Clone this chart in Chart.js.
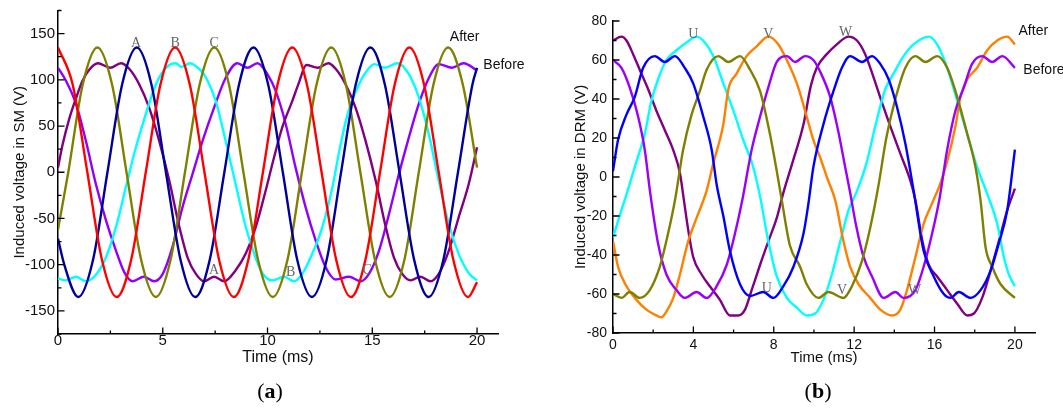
<!DOCTYPE html>
<html>
<head>
<meta charset="utf-8">
<script src="https://cdn.jsdelivr.net/npm/chart.js@4.4.0/dist/chart.umd.min.js"></script>
<style>
    body { margin: 0; background: #fff; width: 1063px; height: 408px; overflow: hidden; position: relative; }
    canvas { position: absolute; top: 0; }
    #smChart { left: 0; }
    #drmChart { left: 540px; }
    .tag { position: absolute; top: 378px; font-family: "Liberation Serif", "DejaVu Serif", serif; font-size: 22px; color: #000; transform: translateX(-50%); }
    .tag b { font-weight: bold; }
</style>
</head>
<body>
<canvas id="smChart" width="540" height="408"></canvas>
<canvas id="drmChart" width="523" height="408"></canvas>
<div class="tag" style="left:270px">(<b>a</b>)</div>
<div class="tag" style="left:818px">(<b>b</b>)</div>
<script>
// ---- (a) induced voltage in SM, [time ms, volts] ----
const smRed = [[0,135],[0.7,95],[1.4,0],[2.1,-95],[2.8,-135],[3.49,-95],[4.19,0],[4.89,95],[5.59,135],[6.29,95],[6.99,0],[7.69,-95],[8.39,-135],[9.08,-95],[9.78,0],[10.48,95],[11.18,135],[11.88,95],[12.58,0],[13.28,-95],[13.98,-135],[14.67,-95],[15.37,0],[16.07,95],[16.77,135],[17.47,95],[18.17,0],[18.87,-95],[19.57,-135],[20,-119]];
const smBlue = [[0,-72],[0.3,-100],[0.97,-135],[1.67,-95],[2.36,0],[3.06,95],[3.76,135],[4.46,95],[5.15,0],[5.85,-95],[6.55,-135],[7.24,-95],[7.94,0],[8.64,95],[9.33,135],[10.03,95],[10.73,0],[11.42,-95],[12.12,-135],[12.82,-95],[13.51,0],[14.21,95],[14.91,135],[15.6,95],[16.3,0],[17.0,-95],[17.69,-135],[18.39,-95],[19.09,0],[19.78,95],[20,113]];
const smOlive = [[0,-62],[0.49,0],[1.18,95],[1.88,135],[2.58,95],[3.27,0],[3.97,-95],[4.67,-135],[5.37,-95],[6.06,0],[6.76,95],[7.46,135],[8.16,95],[8.85,0],[9.55,-95],[10.25,-135],[10.95,-95],[11.64,0],[12.34,95],[13.04,135],[13.74,95],[14.43,0],[15.13,-95],[15.83,-135],[16.53,-95],[17.22,0],[17.92,95],[18.62,135],[19.32,95],[20,5]];
const smCyan = [[0,-115],[0.38,-117],[0.86,-113],[1.33,-118],[1.81,-111],[2.29,-92],[2.77,-59],[3.24,-16],[3.72,27],[4.19,63],[4.67,95],[5.15,113],[5.62,118],[5.9,114],[6.3,118],[6.82,110],[7.05,103],[7.53,77],[8.0,34],[8.48,-13],[8.96,-59],[9.36,-88],[9.75,-109],[10.23,-117],[10.79,-113],[11.26,-118],[11.66,-110],[12.14,-88],[12.62,-59],[13.1,-16],[13.4,20],[13.6,42],[13.89,68],[14.36,95],[14.75,110],[15.1,117],[15.6,113],[16.2,118],[16.75,106],[17.22,81],[17.7,41],[18.17,-9],[18.65,-56],[19.12,-88],[19.6,-109],[20,-117]];
const smPurple = [[0,5],[0.22,30],[0.54,58],[0.86,80],[1.17,99],[1.49,111],[1.9,118],[2.5,113],[3.0,118],[3.4,112],[3.88,95],[4.35,70],[4.83,34],[5.31,-9],[5.79,-59],[6.18,-92],[6.58,-110],[6.97,-118],[7.45,-113],[7.93,-118],[8.48,-106],[8.96,-88],[9.44,-59],[9.91,-20],[10.31,16],[10.71,49],[11.18,77],[11.5,97],[11.85,116],[12.4,113],[12.9,118],[13.25,112],[13.73,95],[14.2,70],[14.68,34],[15.16,-9],[15.64,-59],[16.03,-92],[16.43,-110],[16.82,-117],[17.3,-113],[17.78,-118],[18.17,-110],[18.65,-85],[19.12,-49],[19.6,-13],[20,27]];
const smViolet = [[0,113],[0.38,99],[0.86,74],[1.33,34],[1.81,-13],[2.29,-52],[2.77,-85],[3.16,-108],[3.56,-118],[4.1,-113],[4.59,-118],[5.0,-110],[5.46,-81],[5.94,-38],[6.42,-2],[6.9,34],[7.45,70],[8.0,102],[8.56,118],[9.04,113],[9.52,118],[10.0,106],[10.39,88],[10.87,52],[11.34,5],[11.82,-38],[12.3,-74],[12.78,-103],[13.25,-116],[13.89,-113],[14.44,-118],[14.84,-110],[15.32,-85],[15.8,-45],[16.27,-2],[16.75,38],[17.22,74],[17.7,102],[18.17,117],[18.8,113],[19.36,118],[20,110]];

// ---- (b) induced voltage in DRM ----
const drmBlue = [[0,3],[0.25,19],[0.67,32],[1.08,41],[1.5,56],[2.08,62],[2.58,59],[3.08,62],[3.57,56],[3.99,48],[4.49,31],[4.91,14],[5.16,-4],[5.49,-20],[5.82,-38],[6.32,-55],[6.82,-61],[7.48,-59],[7.98,-62],[8.48,-56],[8.98,-46],[9.48,-29],[9.72,-14],[9.97,5],[10.47,27],[10.97,44],[11.39,56],[11.8,62],[12.39,59],[12.89,62],[13.3,58],[13.72,50],[14.13,36],[14.55,17],[14.96,-7],[15.46,-38],[15.96,-51],[16.46,-60],[16.79,-62],[17.21,-59],[17.79,-62],[18.29,-58],[18.79,-48],[19.2,-34],[19.62,-17],[20,14]];
const drmOlive = [[0,-60],[0.42,-62],[0.83,-59],[1.33,-62],[1.83,-58],[2.33,-46],[2.74,-29],[3.1,-11],[3.49,14],[3.91,32],[4.32,44],[4.66,55],[5.24,62],[5.74,59],[6.32,62],[6.82,55],[7.32,44],[7.81,22],[8.15,3],[8.4,-12],[8.8,-35],[9.31,-46],[9.64,-55],[10.22,-62],[10.72,-59],[11.47,-62],[11.89,-56],[12.39,-43],[12.8,-26],[13.2,-5],[13.6,20],[14.0,38],[14.55,56],[15.05,62],[15.55,59],[16.13,62],[16.63,56],[17.13,41],[17.63,22],[18.04,5],[18.29,-12],[18.54,-36],[18.87,-46],[19.29,-55],[20,-62]];
const drmViolet = [[0,60],[0.42,56],[0.83,46],[1.25,31],[1.58,14],[1.85,-8],[2.24,-34],[2.66,-50],[3.16,-58],[3.57,-62],[4.16,-59],[4.66,-62],[5.16,-56],[5.66,-45],[6.07,-29],[6.45,-11],[6.9,14],[7.32,31],[7.73,46],[8.15,59],[8.65,62],[9.06,59],[9.56,62],[9.97,60],[10.31,54],[10.81,41],[11.2,24],[11.5,8],[11.8,-8],[12.1,-25],[12.47,-41],[12.89,-51],[13.47,-62],[14.05,-59],[14.46,-62],[15.05,-58],[15.46,-46],[15.88,-29],[16.25,-11],[16.63,14],[17.04,34],[17.46,46],[17.87,58],[18.37,62],[18.87,59],[19.37,62],[20,56]];
const drmOrange = [[0,-33],[0.25,-46],[0.67,-56],[1.17,-63],[1.66,-68],[2.16,-71],[2.41,-72],[2.66,-69],[3.0,-62],[3.33,-50],[3.74,-33],[4.16,-21],[4.66,-7],[4.99,7],[5.49,27],[5.74,45],[6.15,53],[6.65,62],[7.15,67],[7.73,72],[8.23,68],[8.65,60],[9.15,48],[9.64,31],[9.97,19],[10.31,10],[10.64,0],[11.06,-12],[11.47,-33],[11.8,-46],[12.22,-55],[12.8,-62],[13.3,-68],[13.89,-71],[14.3,-68],[14.63,-58],[15.05,-41],[15.46,-24],[15.9,-13],[16.3,-3],[16.63,8],[17.04,26],[17.29,41],[17.63,50],[18.12,56],[18.62,65],[19.12,70],[19.62,72],[20,68]];
const drmCyan = [[0,-31],[0.42,-17],[0.67,-9],[1.17,8],[1.58,22],[1.91,39],[2.24,50],[2.66,60],[3.16,65],[3.66,69],[4.16,72],[4.57,69],[4.99,62],[5.49,48],[5.99,34],[6.48,19],[6.98,5],[7.32,-10],[7.73,-33],[8.15,-51],[8.65,-62],[9.15,-67],[9.64,-71],[10.06,-70],[10.47,-63],[10.89,-50],[11.31,-33],[11.72,-17],[12.15,-7],[12.64,8],[13.05,26],[13.55,45],[13.96,53],[14.46,62],[14.96,68],[15.71,72],[16.13,68],[16.63,56],[17.13,39],[17.63,22],[18.12,5],[18.6,-8],[19.12,-24],[19.45,-41],[19.7,-50],[20,-56]];
const drmPurple = [[0,70],[0.42,72],[0.67,70],[1.0,63],[1.33,55],[1.75,45],[2.16,34],[2.58,24],[2.99,14],[3.33,2],[3.53,-12],[3.74,-27],[3.99,-41],[4.41,-50],[4.82,-56],[5.32,-63],[5.82,-71],[6.23,-71],[6.57,-68],[6.9,-58],[7.32,-45],[7.73,-33],[8.15,-21],[8.48,-8],[8.98,9],[9.48,27],[9.85,47],[10.14,56],[10.64,63],[11.14,68],[11.72,72],[12.14,70],[12.55,63],[12.97,51],[13.39,38],[13.8,26],[14.3,12],[14.8,-2],[15.05,-12],[15.38,-32],[15.71,-45],[16.13,-51],[16.63,-58],[17.13,-65],[17.63,-71],[17.96,-70],[18.37,-62],[18.79,-48],[19.2,-33],[19.62,-17],[20,-6]];

// axis ticks
const smXTicks = [0, 5, 10, 15, 20];
const smYTicks = [-150, -100, -50, 0, 50, 100, 150];
const drmXTicks = [0, 4, 8, 12, 16, 20];
const drmYTicks = [-80, -60, -40, -20, 0, 20, 40, 60, 80];

// text tags placed in data units: [text, time, volts]
const smPhaseTags = [['A',3.72,139],['B',5.59,139],['C',7.45,139],['A',7.45,-106],['B',11.1,-108],['C',14.76,-106]];
const smSideTags = [['After',18.7,146],['Before',20.3,116]];
const drmPhaseTags = [['U',4.0,73],['V',7.73,73],['W',11.57,74],['U',7.65,-57],['V',11.4,-58],['W',15.01,-58]];
const drmSideTags = [['After',20.18,75],['Before',20.42,55]];

const toPoints = pairs => pairs.map(([x, y]) => ({ x, y }));

// inward major/minor ticks + small text tags
const axisMarks = {
    id: 'axisMarks',
    afterDraw(chart, args, opts) {
        const { ctx, chartArea: a, scales: { x, y } } = chart;
        ctx.save();
        ctx.strokeStyle = '#000';
        ctx.lineWidth = 1.3;
        ctx.beginPath();
        opts.xMajor.forEach(v => { const p = x.getPixelForValue(v); ctx.moveTo(p, a.bottom); ctx.lineTo(p, a.bottom - 6.5); });
        opts.xMinor.forEach(v => { const p = x.getPixelForValue(v); ctx.moveTo(p, a.bottom); ctx.lineTo(p, a.bottom - 3.5); });
        opts.yMajor.forEach(v => { const p = y.getPixelForValue(v); ctx.moveTo(a.left, p); ctx.lineTo(a.left + 6.5, p); });
        opts.yMinor.forEach(v => { const p = y.getPixelForValue(v); ctx.moveTo(a.left, p); ctx.lineTo(a.left + 3.5, p); });
        ctx.stroke();

        ctx.textBaseline = 'middle';
        ctx.textAlign = 'center';
        ctx.fillStyle = '#666';
        ctx.font = '14px "Liberation Serif", serif';
        opts.phaseTags.forEach(([t, tx, ty]) => ctx.fillText(t, x.getPixelForValue(tx), y.getPixelForValue(ty)));

        ctx.textAlign = 'left';
        ctx.fillStyle = '#111';
        ctx.font = '14px "Liberation Sans", Arial, sans-serif';
        opts.sideTags.forEach(([t, tx, ty]) => ctx.fillText(t, x.getPixelForValue(tx), y.getPixelForValue(ty)));
        ctx.restore();
    }
};

function makeLine(pairs, color) {
    return {
        data: toPoints(pairs),
        borderColor: color,
        borderWidth: 2.4,
        pointRadius: 0,
        cubicInterpolationMode: 'monotone',
        fill: false
    };
}

function buildChart(id, cfg) {
    const ctx = document.getElementById(id).getContext('2d');
    new Chart(ctx, {
        type: 'line',
        data: { datasets: cfg.datasets },
        options: {
            responsive: false,
            animation: false,
            events: [],
            layout: { padding: cfg.padding },
            plugins: {
                legend: { display: false },
                tooltip: { enabled: false },
                axisMarks: cfg.marks
            },
            scales: {
                x: {
                    type: 'linear',
                    min: 0,
                    max: 21,
                    afterFit: s => { s.height = cfg.xHeight; },
                    afterBuildTicks: s => { s.ticks = cfg.xTicks.map(v => ({ value: v })); },
                    grid: { display: false, drawTicks: false },
                    border: { display: true, color: '#000', width: 1.5 },
                    ticks: { color: '#111', padding: cfg.xPad, maxRotation: 0, font: { family: 'Liberation Sans', size: cfg.tickSize, lineHeight: 1 } },
                    title: { display: true, text: 'Time (ms)', color: '#111', padding: { top: 0, bottom: cfg.xTitlePad }, font: { family: 'Liberation Sans', size: cfg.xTitleSize } }
                },
                y: {
                    min: cfg.yMin,
                    max: cfg.yMax,
                    afterFit: s => { s.width = cfg.yWidth; },
                    afterBuildTicks: s => { s.ticks = cfg.yTicks.map(v => ({ value: v })); },
                    grid: { display: false, drawTicks: false },
                    border: { display: true, color: '#000', width: 1.5 },
                    ticks: { color: '#111', padding: cfg.yPad, font: { family: 'Liberation Sans', size: cfg.tickSize, lineHeight: 1 } },
                    title: { display: true, text: cfg.yTitle, color: '#111', padding: { top: cfg.yTitlePad, bottom: 0 }, font: { family: 'Liberation Sans', size: 15 } }
                }
            }
        },
        plugins: [axisMarks]
    });
}

buildChart('smChart', {
    datasets: [
        makeLine(smRed, '#ff0000'),
        makeLine(smBlue, '#00009c'),
        makeLine(smOlive, '#808000'),
        makeLine(smCyan, '#00ffff'),
        makeLine(smPurple, '#800080'),
        makeLine(smViolet, '#8f00ff')
    ],
    padding: { top: 10, right: 42, left: 0, bottom: 0 },
    xHeight: 74, yWidth: 58,
    yMin: -175, yMax: 175,
    xTicks: smXTicks, yTicks: smYTicks,
    tickSize: 15, xPad: -1, yPad: 3,
    xTitleSize: 16, xTitlePad: 41, yTitlePad: 11,
    yTitle: 'Induced voltage in SM (V)',
    marks: {
        xMajor: smXTicks, xMinor: [2.5, 7.5, 12.5, 17.5],
        yMajor: smYTicks, yMinor: [-175, -125, -75, -25, 25, 75, 125, 175],
        phaseTags: smPhaseTags, sideTags: smSideTags
    }
});

buildChart('drmChart', {
    datasets: [
        makeLine(drmBlue, '#0000ff'),
        makeLine(drmOlive, '#808000'),
        makeLine(drmViolet, '#9900ff'),
        makeLine(drmOrange, '#ff8000'),
        makeLine(drmCyan, '#00ffff'),
        makeLine(drmPurple, '#800080')
    ],
    padding: { top: 21, right: 28, left: 0, bottom: 0 },
    xHeight: 75, yWidth: 73,
    yMin: -80, yMax: 80,
    xTicks: drmXTicks, yTicks: drmYTicks,
    tickSize: 14, xPad: 5, yPad: 6,
    xTitleSize: 15, xTitlePad: 41.5, yTitlePad: 32,
    yTitle: 'Induced voltage in DRM (V)',
    marks: {
        xMajor: drmXTicks, xMinor: [2, 6, 10, 14, 18],
        yMajor: drmYTicks, yMinor: [-70, -50, -30, -10, 10, 30, 50, 70],
        phaseTags: drmPhaseTags, sideTags: drmSideTags
    }
});
</script>
</body>
</html>
